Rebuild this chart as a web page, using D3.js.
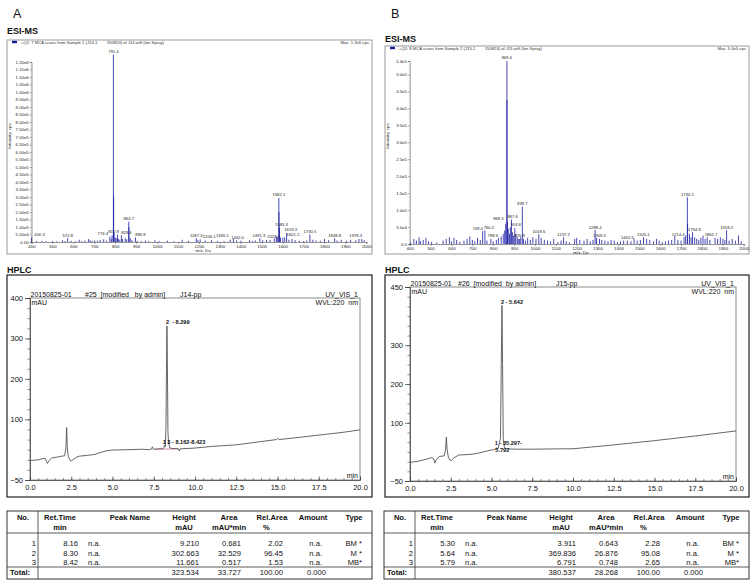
<!DOCTYPE html>
<html><head><meta charset="utf-8">
<script src="https://cdn.jsdelivr.net/npm/d3@7"></script>
<style>body{margin:0;background:#fff}svg{display:block}text{font-family:"Liberation Sans",Arial,Helvetica,sans-serif}</style>
</head><body><svg id="c" width="756" height="586"></svg>
<script>
// ---------------- DATA ----------------
const msXTicks = [400,500,600,700,800,900,1000,1100,1200,1300,1400,1500,1600,1700,1800,1900,2000];
const msAYTicks = [0,5e4,1e5,1.5e5,2e5,2.5e5,3e5,3.5e5,4e5,4.5e5,5e5,5.5e5,6e5,6.5e5,7e5,7.5e5,8e5,8.5e5,9e5,9.5e5,1e6,1.05e6,1.1e6,1.15e6,1.2e6];
const msAYLabels = ["0.00","5.00e4","1.00e5","1.50e5","2.00e5","2.50e5","3.00e5","3.50e5","4.00e5","4.50e5","5.00e5","5.50e5","6.00e5","6.50e5","7.00e5","7.50e5","8.00e5","8.50e5","9.00e5","9.50e5","1.00e6","1.05e6","1.10e6","1.15e6","1.20e6"];
const msBYTicks = [0,5e4,1e5,1.5e5,2e5,2.5e5,3e5,3.5e5,4e5,4.5e5,5e5,5.4e5];
const msBYLabels = ["0.0","5.0e4","1.0e5","1.5e5","2.0e5","2.5e5","3.0e5","3.5e5","4.0e5","4.5e5","5.0e5","5.4e5"];

// [m/z, intensity cps]
const msAPeaks = [[400.3,30000],[425,6000],[450,8000],[470,5000],[500,6000],[520,4000],[548,12000],[560,6000],[572.8,25000],[590,7000],[610,5000],[628,15000],[640,6000],[655,9000],[672,20000],[680,12000],[690,8000],[702,10000],[715,9000],[728,14000],[745,18000],[758,10000],[774.4,35000],[781,20000],[785,45000],[791.4,1250000],[792.4,310000],[795,60000],[800,30000],[805,25000],[810.9,50000],[815,20000],[822,15000],[829.6,45000],[835,20000],[848,25000],[855,18000],[864.7,135000],[865.7,100000],[872,25000],[880,12000],[896.8,30000],[905,8000],[925,6000],[945,10000],[960,6000],[990,12000],[1010,7000],[1050,9000],[1080,5000],[1120,15000],[1150,8000],[1187.4,25000],[1195,12000],[1206.1,18000],[1230,10000],[1260,12000],[1290,8000],[1320,6000],[1350,15000],[1365.1,20000],[1380,10000],[1400,8000],[1442.0,12000],[1455,7000],[1470,10000],[1491.3,25000],[1505,12000],[1523.0,14000],[1540,15000],[1560,25000],[1570,40000],[1575,30000],[1582.1,293000],[1582.6,200000],[1585.3,95000],[1590,30000],[1601.2,30000],[1610,30000],[1619.3,60000],[1630,15000],[1645,20000],[1660,12000],[1680,8000],[1700,6000],[1715,10000],[1730.5,50000],[1745,15000],[1760,10000],[1780,8000],[1800,20000],[1820,12000],[1848.8,25000],[1860,10000],[1880,15000],[1905,8000],[1925,15000],[1950,12000],[1965,20000],[1978.3,20000],[1990,12000]];
const msALabels = [400.3,572.8,774.4,791.4,810.9,829.6,864.7,896.8,1187.4,1206.1,1365.1,1442.0,1491.3,1523.0,1582.1,1585.3,1601.2,1619.3,1730.5,1848.8,1978.3];

const msBPeaks = [[405,5000],[420,15000],[432,10000],[445,20000],[452,8000],[465,12000],[478,18000],[490,8000],[505,6000],[530,4000],[560,10000],[575,15000],[590,20000],[600,8000],[612,18000],[625,12000],[640,6000],[660,10000],[675,15000],[688,22000],[700,12000],[712,8000],[725,18000],[738,12000],[749.4,38000],[760.2,40000],[770,10000],[788.6,15000],[800,8000],[815,12000],[825,18000],[838,22000],[848,30000],[855,40000],[860,60000],[865.6,540000],[866.1,425000],[868.3,65000],[872,45000],[878,30000],[882,50000],[887.6,72000],[892,35000],[898,25000],[903.6,47000],[908,30000],[915,20000],[920,15000],[926.8,15000],[932,20000],[939.7,110000],[945,15000],[955,10000],[965,18000],[978,12000],[990,20000],[1005,15000],[1018.6,29000],[1030,18000],[1045,12000],[1060,10000],[1075,8000],[1090,15000],[1110,6000],[1125,10000],[1137.2,20000],[1150,8000],[1165,5000],[1190,15000],[1200,18000],[1215,12000],[1235,10000],[1250,15000],[1265,8000],[1278,12000],[1288.4,41000],[1295,18000],[1309.3,15000],[1320,12000],[1335,10000],[1350,8000],[1365,12000],[1380,10000],[1395,6000],[1410,8000],[1425,10000],[1442.5,10000],[1460,8000],[1475,15000],[1490,10000],[1505,12000],[1520.1,20000],[1535,15000],[1550,12000],[1568,8000],[1582,15000],[1595,10000],[1610,6000],[1625,8000],[1640,10000],[1655,12000],[1670,25000],[1685,12000],[1700,10000],[1714.4,20000],[1722,25000],[1730.1,138000],[1731.1,60000],[1740,30000],[1748,20000],[1754.8,35000],[1765,20000],[1775,15000],[1785,12000],[1795,18000],[1805,25000],[1815,15000],[1825,20000],[1838,12000],[1862.7,18000],[1875,15000],[1888,20000],[1900,15000],[1910,12000],[1918.2,41000],[1930,10000],[1945,15000],[1960,10000],[1975,25000],[1988,8000]];
const msBLabels = [749.4,760.2,788.6,865.6,868.3,887.6,903.6,926.8,939.7,1018.6,1137.2,1288.4,1309.3,1442.5,1520.1,1714.4,1730.1,1754.8,1862.7,1918.2];

// HPLC traces: [time min, mAU]
const hplcATrace = [[0,-2],[0.5,0],[0.9,4],[1.0,-4],[1.05,-9],[1.15,-2],[1.3,4],[1.8,8],[2.1,10],[2.18,30],[2.22,80],[2.26,30],[2.32,8],[2.45,-2],[2.5,-3],[2.6,0],[2.8,6],[3.0,9],[3.5,11],[3.9,13],[4.2,17],[4.6,22],[5.0,24],[6.0,25],[6.8,26],[7.2,25],[7.35,26],[7.42,32],[7.48,26],[7.8,27],[8.05,27],[8.12,30],[8.16,36],[8.2,32],[8.24,80],[8.27,220],[8.299,331],[8.33,220],[8.36,70],[8.4,40],[8.42,40],[8.46,30],[8.6,28],[9.0,27],[9.05,22],[9.1,27],[10,29],[11,33],[12.5,37],[14,45],[14.95,50],[15.02,53],[15.1,50],[16,54],[17.5,61],[19,68],[20,74]];
const hplcBTrace = [[0,-2],[0.5,1],[1.0,6],[1.3,10],[1.45,8],[1.52,-4],[1.6,5],[1.8,13],[2.1,15],[2.18,30],[2.23,63],[2.28,30],[2.35,12],[2.45,4],[2.55,3],[2.7,10],[3.0,17],[3.5,18],[4.0,20],[4.5,25],[5.0,30],[5.2,31],[5.3,35],[5.4,33],[5.55,60],[5.6,250],[5.642,403],[5.68,250],[5.72,60],[5.79,38],[5.85,33],[6.5,32],[7.5,32],[9.5,33],[10,33],[12.5,43],[15,54],[17.5,66],[20,79]];
const hplcXTicks = [0,2.5,5,7.5,10,12.5,15,17.5,20];
const hplcAYLabels = [-50,100,200,300,400];
const hplcBYLabels = [-50,100,200,300,450];

// Tables
const tableHeaders = [["No.",""],["Ret.Time","min"],["Peak Name",""],["Height","mAU"],["Area","mAU*min"],["Rel.Area","%"],["Amount",""],["Type",""]];
const tableANo = ["1","2","3"];
const tableARet = ["8.16","8.30","8.42"];
const tableAHeight = ["9.210","302.663","11.661"];
const tableAArea = ["0.681","32.529","0.517"];
const tableARel = ["2.02","96.45","1.53"];
const tableAType = ["BM *","M *","MB*"];
const tableATotal = ["323.534","33.727","100.00","0.000"];
const tableBNo = ["1","2","3"];
const tableBRet = ["5.30","5.64","5.79"];
const tableBHeight = ["3.911","369.836","6.791"];
const tableBArea = ["0.643","26.876","0.748"];
const tableBRel = ["2.28","95.08","2.65"];
const tableBType = ["BM *","M *","MB*"];
const tableBTotal = ["380.537","28.268","100.00","0.000"];

// ---------------- DRAW ----------------
const svg = d3.select('#c');
function txt(g,x,y,s,size,opts={}){
  const t=g.append('text').attr('x',x).attr('y',y).text(s).style('font-size',size+'px').attr('fill',opts.fill||'#111');
  if(opts.anchor) t.attr('text-anchor',opts.anchor);
  if(opts.bold) t.style('font-weight','bold');
  return t;
}

function drawMS(o){
  const g = svg.append('g');
  g.append('rect').attr('x',o.box[0]).attr('y',o.box[1]).attr('width',o.box[2]).attr('height',o.box[3]).attr('fill','none').attr('stroke','#9a9a9a').attr('stroke-width',1);
  g.append('rect').attr('x',o.box[0]+5).attr('y',o.box[1]+0.8).attr('width',5).attr('height',2.4).attr('fill','#1a1a9c');
  txt(g,o.box[0]+14,o.box[1]+3.6,o.legend,4.2,{fill:'#333'}).style('white-space','pre');
  txt(g,o.box[0]+o.box[2]-2,o.box[1]+3.6,o.maxText,4.2,{anchor:'end',fill:'#333'});
  const x = d3.scaleLinear().domain([400,2000]).range(o.xr);
  const y = d3.scaleLinear().domain([0,o.ymax]).range(o.yr);
  g.append('g').attr('transform',`translate(0,${o.yr[0]})`)
    .call(d3.axisBottom(x).tickValues(d3.range(400,2001,20)).tickSize(1).tickFormat(''))
    .call(a=>{a.select('.domain').remove();a.selectAll('line').attr('stroke','#555').attr('stroke-width',0.4);});
  const xa = g.append('g').attr('transform',`translate(0,${o.yr[0]})`)
    .call(d3.axisBottom(x).tickValues(msXTicks).tickSize(2).tickPadding(0.8).tickFormat(d3.format('d')));
  xa.selectAll('text').style('font-size','4.4px').attr('fill','#222');
  xa.select('.domain').attr('stroke','#555').attr('stroke-width',0.6);
  xa.selectAll('line').attr('stroke','#555').attr('stroke-width',0.5);
  g.append('g').attr('transform',`translate(${o.xr[0]},0)`)
    .call(d3.axisLeft(y).tickValues(d3.range(0,o.ymax+1,1e4)).tickSize(0.8).tickFormat(''))
    .call(a=>{a.select('.domain').remove();a.selectAll('line').attr('stroke','#666').attr('stroke-width',0.3);});
  const ya = g.append('g').attr('transform',`translate(${o.xr[0]},0)`)
    .call(d3.axisLeft(y).tickValues(o.yTicks).tickFormat((d,i)=>o.yLabels[i]).tickSize(1.8).tickPadding(1));
  ya.selectAll('text').style('font-size','4.3px').attr('fill','#222');
  ya.select('.domain').attr('stroke','#555').attr('stroke-width',0.6);
  ya.selectAll('line').attr('stroke','#555').attr('stroke-width',0.5);
  g.selectAll('line.pk').data(o.peaks).join('line').attr('class','pk')
    .attr('x1',d=>x(d[0])).attr('x2',d=>x(d[0])).attr('y1',y(0)).attr('y2',d=>y(d[1]))
    .attr('stroke','#1c1ca4').attr('stroke-width',1).attr('stroke-opacity',0.8);
  o.labels.forEach(mz=>{
    const p=o.peaks.find(d=>d[0]===mz);
    const dx=(o.nudge[mz.toFixed(1)]||0);
    txt(g,x(mz)+dx,y(p[1])-1.6,mz.toFixed(1),4.2,{anchor:'middle',fill:'#222'});
  });
  txt(g,x(1220),o.yr[0]+9.6,'m/z, Da',4.4,{anchor:'middle',fill:'#222'});
  txt(g,0,0,'Intensity, cps',4.4,{anchor:'middle',fill:'#222'}).attr('transform',`translate(${o.box[0]+4},${o.titleY}) rotate(-90)`);
}

drawMS({box:[7,40,365,214],xr:[31.5,366.3],yr:[242,62],ymax:1.2e6,yTicks:msAYTicks,yLabels:msAYLabels,peaks:msAPeaks,labels:msALabels,
  nudge:{'400.3':8,'774.4':-7,'810.9':-4,'829.6':5,'896.8':5,'1206.1':9,'1365.1':-11,'1442.0':-12,'1491.3':-1,'1523.0':7,'1585.3':2,'1601.2':10,'1619.3':4,'1978.3':-6},
  legend:'+Q1: 7 MCA scans from Sample 1 (J14-1        150824) of J14.wiff (Ion Spray)',maxText:'Max. 1.3e6 cps.',titleY:136});
drawMS({box:[385,46,364,208],xr:[409.7,743.7],yr:[244,61],ymax:5.4e5,yTicks:msBYTicks,yLabels:msBYLabels,peaks:msBPeaks,labels:msBLabels,
  nudge:{'749.4':-5,'760.2':4,'788.6':2,'868.3':-9,'887.6':1,'903.6':1,'1714.4':-6,'1754.8':2,'1862.7':-4},
  legend:'+Q1: 8 MCA scans from Sample 2 (J15-1        150824) of J15.wiff (Ion Spray)',maxText:'Max. 5.4e5 cps.',titleY:136});

function drawHPLC(o){
  const g = svg.append('g');
  g.append('rect').attr('x',o.box[0]).attr('y',o.box[1]).attr('width',o.box[2]).attr('height',o.box[3]).attr('fill','none').attr('stroke','#333').attr('stroke-width',1.3);
  const x = d3.scaleLinear().domain([0,20]).range(o.xr);
  const y = d3.scaleLinear().domain(o.yDomain).range(o.yr);
  g.append('rect').attr('x',o.xr[0]).attr('y',o.yr[1]).attr('width',o.xr[1]-o.xr[0]).attr('height',o.yr[0]-o.yr[1]).attr('fill','none').attr('stroke','#8c8c8c').attr('stroke-width',1);
  g.append('g').attr('transform',`translate(${o.xr[0]},0)`)
    .call(d3.axisLeft(y).tickValues(d3.range(o.yDomain[0],o.yDomain[1]+1,25)).tickSize(2.5).tickFormat(''))
    .call(a=>{a.select('.domain').remove();a.selectAll('line').attr('stroke','#444').attr('stroke-width',0.6);});
  const ya = g.append('g').attr('transform',`translate(${o.xr[0]},0)`)
    .call(d3.axisLeft(y).tickValues(o.yLabels).tickSize(5).tickPadding(2).tickFormat(d3.format('d')));
  ya.selectAll('text').style('font-size','7.5px').attr('fill','#111');
  ya.select('.domain').attr('stroke','#444').attr('stroke-width',0.8);
  ya.selectAll('line').attr('stroke','#444').attr('stroke-width',0.7);
  g.append('g').attr('transform',`translate(0,${o.yr[0]})`)
    .call(d3.axisBottom(x).tickValues(d3.range(0,20.01,0.5)).tickSize(-2).tickFormat(''))
    .call(a=>{a.select('.domain').remove();a.selectAll('line').attr('stroke','#444').attr('stroke-width',0.6);});
  const xa = g.append('g').attr('transform',`translate(0,${o.yr[0]})`)
    .call(d3.axisBottom(x).tickValues(hplcXTicks).tickSize(-3.5).tickPadding(5).tickFormat(d3.format('.1f')));
  xa.selectAll('text').style('font-size','7.5px').attr('fill','#111');
  xa.select('.domain').attr('stroke','#444').attr('stroke-width',0.8);
  xa.selectAll('line').attr('stroke','#444').attr('stroke-width',0.7);
  const ty=o.yr[1]-1.5;
  txt(g,o.xr[0]+0.5,ty,o.h1,7);
  txt(g,o.h2x,ty,o.h2,7).style('white-space','pre');
  txt(g,o.h3x,ty,o.h3,7);
  txt(g,o.xr[1]-2,ty,'UV_VIS_1',7,{anchor:'end'});
  txt(g,o.xr[0]+1.5,o.yr[1]+6.5,'mAU',7);
  txt(g,o.xr[1]-2,o.yr[1]+6.5,'WVL:220  nm',7,{anchor:'end'}).style('white-space','pre');
  txt(g,o.xr[1]-2,o.yr[0]-2.5,'min',7,{anchor:'end'});
  if(o.base){
    g.append('path').attr('d',d3.line().x(d=>x(d[0])).y(d=>y(d[1]))(o.base)).attr('fill','none').attr('stroke','#e0708c').attr('stroke-width',0.8);
  }
  g.append('path').attr('d',d3.line().x(d=>x(d[0])).y(d=>y(d[1]))(o.trace)).attr('fill','none').attr('stroke','#555').attr('stroke-width',0.9);
  o.plabels.forEach(l=>{
    txt(g,x(l.t)+l.dx,y(l.v)+l.dy,l.s,5.6,{bold:true}).style('white-space','pre');
  });
}
drawHPLC({box:[7,275,365,222],xr:[30,360],yr:[480,298],yDomain:[-50,400],yLabels:hplcAYLabels,trace:hplcATrace,
  h1:'20150825-01',h2:'#25  [modified   by admin]',h2x:85,h3:'J14-pp',h3x:180,
  base:[[7.6,26],[9.0,27]],
  plabels:[{t:8.299,v:331,dx:-1,dy:-2,s:'2  - 8.299'},{t:8.162,v:36,dx:-2,dy:-1.5,s:'1 3 - 8.162-8.423'}]});
drawHPLC({box:[385,275,364,222],xr:[410,736],yr:[481,287],yDomain:[-50,450],yLabels:hplcBYLabels,trace:hplcBTrace,
  h1:'20150825-01',h2:'#26  [modified  by admin]',h2x:458,h3:'J15-pp',h3x:556,
  plabels:[{t:5.642,v:403,dx:-1,dy:-1,s:'2 - 5.642'},{t:5.297,v:35,dx:-1.5,dy:-3,s:'1 - 35.297-'},{t:5.297,v:35,dx:-1,dy:3.5,s:'5.792'}]});

function drawTable(ox,no,ret,height,area,rel,type,total){
  const g=svg.append('g').attr('transform',`translate(${ox},0)`);
  g.append('rect').attr('x',0).attr('y',511).attr('width',365).attr('height',68).attr('fill','none').attr('stroke','#333').attr('stroke-width',1);
  g.append('line').attr('x1',0).attr('x2',365).attr('y1',533).attr('y2',533).attr('stroke','#333').attr('stroke-width',0.8);
  g.append('line').attr('x1',0).attr('x2',365).attr('y1',567).attr('y2',567).attr('stroke','#333').attr('stroke-width',0.8);
  g.append('line').attr('x1',31).attr('x2',31).attr('y1',511).attr('y2',579).attr('stroke','#333').attr('stroke-width',0.8);
  const hx=[16,53,123,177,222,265,306,347];
  tableHeaders.forEach((h,i)=>{
    txt(g,hx[i],520,h[0],7.6,{anchor:'middle',bold:true});
    if(h[1]){
      if(h[1]==='%') txt(g,256,530,h[1],7.6,{bold:true});
      else txt(g,hx[i],530,h[1],7.6,{anchor:'middle',bold:true});
    }
  });
  const rows=[546,555.5,565];
  rows.forEach((ry,i)=>{
    txt(g,29,ry,no[i],7.6,{anchor:'end'});
    txt(g,71,ry,ret[i],7.6,{anchor:'end'});
    txt(g,81,ry,'n.a.',7.6);
    txt(g,192,ry,height[i],7.6,{anchor:'end'});
    txt(g,234,ry,area[i],7.6,{anchor:'end'});
    txt(g,276,ry,rel[i],7.6,{anchor:'end'});
    txt(g,315,ry,'n.a.',7.6,{anchor:'end'});
    txt(g,355,ry,type[i],7.6,{anchor:'end'});
  });
  txt(g,3,575,'Total:',7.6,{bold:true});
  txt(g,192,575,total[0],7.6,{anchor:'end'});
  txt(g,234,575,total[1],7.6,{anchor:'end'});
  txt(g,276,575,total[2],7.6,{anchor:'end'});
  txt(g,319,575,total[3],7.6,{anchor:'end'});
}
drawTable(7,tableANo,tableARet,tableAHeight,tableAArea,tableARel,tableAType,tableATotal);
drawTable(384,tableBNo,tableBRet,tableBHeight,tableBArea,tableBRel,tableBType,tableBTotal);

txt(svg,13,18,'A',12.5,{fill:'#111'});
txt(svg,391,18,'B',12.5,{fill:'#111'});
txt(svg,7,34,'ESI-MS',9,{bold:true});
txt(svg,385,42,'ESI-MS',9,{bold:true});
txt(svg,7,273,'HPLC',9,{bold:true});
txt(svg,385,273,'HPLC',9,{bold:true});
</script></body></html>
